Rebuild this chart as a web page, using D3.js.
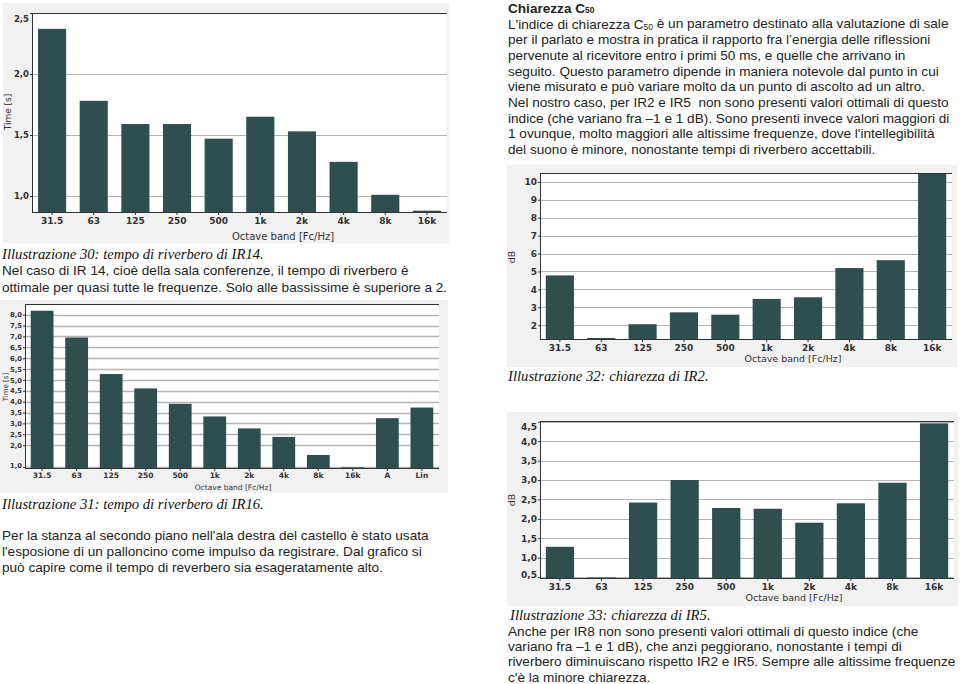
<!DOCTYPE html>
<html><head><meta charset="utf-8">
<script src="https://cdn.jsdelivr.net/npm/d3@7"></script>
<style>
html,body{margin:0;padding:0;background:#fff;}
svg{display:block;}
</style></head>
<body>
<svg id="page" width="960" height="684"></svg>
<script>
// ---------------- DATA ----------------
const bands10 = ["31.5","63","125","250","500","1k","2k","4k","8k","16k"];
const bands12 = ["31.5","63","125","250","500","1k","2k","4k","8k","16k","A","Lin"];

const ir14Values = [2.37, 1.78, 1.59, 1.59, 1.47, 1.65, 1.53, 1.28, 1.01, 0.88];
const ir14Ticks = [1.0, 1.5, 2.0, 2.5];
const ir14TickLabels = ["1,0", "1,5", "2,0", "2,5"];

const ir16Values = [8.18, 6.95, 5.27, 4.61, 3.90, 3.32, 2.77, 2.38, 1.55, 0.98, 3.24, 3.73];
const ir16Ticks = [1.0, 2.0, 2.5, 3.0, 3.5, 4.0, 4.5, 5.0, 5.5, 6.0, 6.5, 7.0, 7.5, 8.0];
const ir16TickLabels = ["1,0","2,0","2,5","3,0","3,5","4,0","4,5","5,0","5,5","6,0","6,5","7,0","7,5","8,0"];

const ir2Values = [4.78, 1.29, 2.06, 2.72, 2.59, 3.47, 3.56, 5.19, 5.63, 10.45];
const ir2Ticks = [2, 3, 4, 5, 6, 7, 8, 9, 10];
const ir2TickLabels = ["2","3","4","5","6","7","8","9","10"];

const ir5Values = [1.28, 0.49, 2.42, 3.00, 2.28, 2.26, 1.90, 2.40, 2.93, 4.46];
const ir5Ticks = [0.5, 1.0, 1.5, 2.0, 2.5, 3.0, 3.5, 4.0, 4.5];
const ir5TickLabels = ["0,5","1,0","1,5","2,0","2,5","3,0","3,5","4,0","4,5"];

const rightParagraph = [
  "L'indice di chiarezza C|50| è un parametro destinato alla valutazione di sale",
  "per il parlato e mostra in pratica il rapporto fra l’energia delle riflessioni",
  "pervenute al ricevitore entro i primi 50 ms, e quelle che arrivano in",
  "seguito. Questo parametro dipende in maniera notevole dal punto in cui",
  "viene misurato e può variare molto da un punto di ascolto ad un altro.",
  "Nel nostro caso, per IR2 e IR5  non sono presenti valori ottimali di questo",
  "indice (che variano fra –1 e 1 dB). Sono presenti invece valori maggiori di",
  "1 ovunque, molto maggiori alle altissime frequenze, dove l'intellegibilità",
  "del suono è minore, nonostante tempi di riverbero accettabili."
];
const leftParagraph1 = [
  "Nel caso di IR 14, cioè della sala conferenze, il tempo di riverbero è",
  "ottimale per quasi tutte le frequenze. Solo alle bassissime è superiore a 2."
];
const leftParagraph2 = [
  "Per la stanza al secondo piano nell'ala destra del castello è stato usata",
  "l'esposione di un palloncino come impulso da registrare. Dal grafico si",
  "può capire come il tempo di reverbero sia esageratamente alto."
];
const bottomParagraph = [
  "Anche per IR8 non sono presenti valori ottimali di questo indice (che",
  "variano fra –1 e 1 dB), che anzi peggiorano, nonostante i tempi di",
  "riverbero diminuiscano rispetto IR2 e IR5. Sempre alle altissime frequenze",
  "c'è la minore chiarezza."
];

// ---------------- DRAW ----------------
const svg = d3.select("#page");
const BAR = "#2f4f4f";
const SANS = "'Liberation Sans', Arial, sans-serif";
const SERIF = "'Liberation Serif', 'Times New Roman', serif";
const TICKF = "Tahoma, 'DejaVu Sans', sans-serif";

function drawBarChart(cfg, cats, vals, ticks, tickLabels) {
  const g = svg.append("g");
  g.append("rect").attr("x", cfg.panel[0]).attr("y", cfg.panel[1])
    .attr("width", cfg.panel[2]).attr("height", cfg.panel[3]).attr("fill", "#f1f1f1");
  const p = cfg.plot; // left, top, right, bottom
  g.append("rect").attr("x", p[0]).attr("y", p[1]).attr("width", p[2]-p[0]).attr("height", p[3]-p[1]).attr("fill", "#fff");

  const x = d3.scaleBand().domain(cats).range([p[0], p[2]]).paddingInner(cfg.pin).paddingOuter(cfg.pout);
  const y = d3.scaleLinear().domain(cfg.domain).range([p[3], p[1]]);

  // gridlines
  g.append("g").selectAll("line").data(ticks).join("line")
    .attr("x1", p[0]).attr("x2", p[2])
    .attr("y1", d => Math.round(y(d)) + 0.5).attr("y2", d => Math.round(y(d)) + 0.5)
    .attr("stroke", "#b4b4b4").attr("stroke-width", cfg.gridW || 1);

  // bars
  g.append("g").selectAll("rect").data(vals).join("rect")
    .attr("x", (d, i) => x(cats[i]))
    .attr("width", x.bandwidth())
    .attr("y", d => y(d))
    .attr("height", d => Math.max(0, p[3] - y(d)))
    .attr("fill", BAR);

  // frame: top border, left axis, bottom axis
  g.append("line").attr("x1", p[0]).attr("x2", p[2]).attr("y1", p[1]+0.5).attr("y2", p[1]+0.5).attr("stroke", "#333");
  g.append("line").attr("x1", p[0]+0.5).attr("x2", p[0]+0.5).attr("y1", p[1]).attr("y2", p[3]).attr("stroke", "#333");
  g.append("line").attr("x1", p[0]).attr("x2", p[2]).attr("y1", p[3]+0.5).attr("y2", p[3]+0.5).attr("stroke", "#333");

  // x axis via d3.axisBottom
  const xa = g.append("g").attr("transform", `translate(0,${p[3]})`)
    .call(d3.axisBottom(x).tickSize(3).tickPadding(cfg.xPad));
  xa.select(".domain").remove();
  xa.selectAll("line").attr("stroke", "#333");
  xa.selectAll("text").attr("font-family", TICKF).attr("font-weight", "bold")
    .attr("font-size", cfg.tickFs).attr("fill", "#333");

  // y axis via d3.axisLeft
  const ya = g.append("g").attr("transform", `translate(${p[0]},0)`)
    .call(d3.axisLeft(y).tickValues(ticks).tickFormat((d, i) => tickLabels[i]).tickSize(2).tickPadding(1));
  ya.select(".domain").remove();
  ya.selectAll("line").attr("stroke", "#333");
  ya.selectAll("text").attr("font-family", TICKF).attr("font-weight", "bold")
    .attr("font-size", cfg.yTickFs || cfg.tickFs).attr("fill", "#333")
    .attr("dy", function(d) {
      const yy = y(d);
      if (yy < p[1] + 5) return (p[1] + 5 - yy) + 3 + "px";
      if (yy > p[3] - 4) return (p[3] - 4 - yy) + 3 + "px";
      return "0.32em";
    });

  // axis titles
  g.append("text").attr("x", cfg.xTitle[0]).attr("y", cfg.xTitle[1]).attr("text-anchor", "middle")
    .attr("font-family", TICKF).attr("font-size", cfg.titleFs).attr("fill", "#333").text("Octave band [Fc/Hz]");
  g.append("text").attr("transform", `translate(${cfg.yTitle[0]},${cfg.yTitle[1]}) rotate(-90)`)
    .attr("text-anchor", "middle").attr("font-family", TICKF).attr("font-size", cfg.yTitleFs || cfg.titleFs).attr("fill", "#333")
    .text(cfg.yLabel);
}

drawBarChart({
  panel: [3, 3, 446, 240], plot: [32, 13, 447, 212], domain: [0.869, 2.5],
  pin: 0.325, pout: 0.145, tickFs: 9, yTickFs: 8.5, titleFs: 10, yTitleFs: 9, xPad: 3,
  xTitle: [283, 240], yTitle: [11, 112], yLabel: "Time [s]"
}, bands10, ir14Values, ir14Ticks, ir14TickLabels);

drawBarChart({
  panel: [0, 300, 448, 193], plot: [25, 304, 439, 468], domain: [0.95, 8.49],
  pin: 0.34, pout: 0.166, tickFs: 7.5, yTickFs: 6.8, titleFs: 7.5, yTitleFs: 7, xPad: 2, gridW: 1.3,
  xTitle: [233, 490], yTitle: [8, 387], yLabel: "Time [s]"
}, bands12, ir16Values, ir16Ticks, ir16TickLabels);

drawBarChart({
  panel: [507, 165, 450, 202], plot: [540, 173, 952, 339], domain: [1.235, 10.49],
  pin: 0.32, pout: 0.14, tickFs: 9, titleFs: 9.5, xPad: 3,
  xTitle: [793, 362], yTitle: [515, 257], yLabel: "dB"
}, bands10, ir2Values, ir2Ticks, ir2TickLabels);

drawBarChart({
  panel: [507, 412, 451, 194], plot: [540, 421, 954, 578], domain: [0.476, 4.52],
  pin: 0.32, pout: 0.14, tickFs: 9, titleFs: 9.5, xPad: 3,
  xTitle: [794, 601], yTitle: [515, 500], yLabel: "dB"
}, bands10, ir5Values, ir5Ticks, ir5TickLabels);

// ---------------- TEXT ----------------
function textLine(x, y, str, opts = {}) {
  const sz = opts.size || 14;
  const drop = opts.subDrop === undefined ? 0.2 : opts.subDrop;
  const t = svg.append("text").attr("x", x).attr("y", y)
    .attr("font-family", opts.family || SANS).attr("font-size", sz)
    .attr("fill", opts.fill || "#222").style("white-space", "pre");
  if (opts.italic) t.attr("font-style", "italic");
  if (opts.bold) t.attr("font-weight", "bold");
  const parts = str.split("|");
  parts.forEach((part, i) => {
    const ts = t.append("tspan").text(part);
    if (i % 2 === 1) { ts.attr("font-size", sz * 0.62).attr("dy", drop + "em"); }
    else if (i > 0) { ts.attr("dy", -drop + "em"); }
  });
  return t;
}

textLine(508, 13.3, "Chiarezza C|50|", { bold: true, size: 13.6, subDrop: 0 });
rightParagraph.forEach((s, i) => textLine(508, 28.7 + i * 15.65, s, { size: 13.6 }));

textLine(2, 259, "Illustrazione 30: tempo di riverbero di IR14.", { family: SERIF, italic: true, size: 14.7, fill: "#111" });
leftParagraph1.forEach((s, i) => textLine(2, 275 + i * 16.5, s, { size: 13.6 }));

textLine(2, 509, "Illustrazione 31: tempo di riverbero di IR16.", { family: SERIF, italic: true, size: 14.7, fill: "#111" });
leftParagraph2.forEach((s, i) => textLine(2, 540 + i * 16, s, { size: 13.6 }));

textLine(508, 381, "Illustrazione 32: chiarezza di IR2.", { family: SERIF, italic: true, size: 14.7, fill: "#111" });

textLine(510, 620, "Illustrazione 33: chiarezza di IR5.", { family: SERIF, italic: true, size: 14.7, fill: "#111" });
bottomParagraph.forEach((s, i) => textLine(508, 636 + i * 15.2, s, { size: 13.6 }));
</script>
</body></html>
